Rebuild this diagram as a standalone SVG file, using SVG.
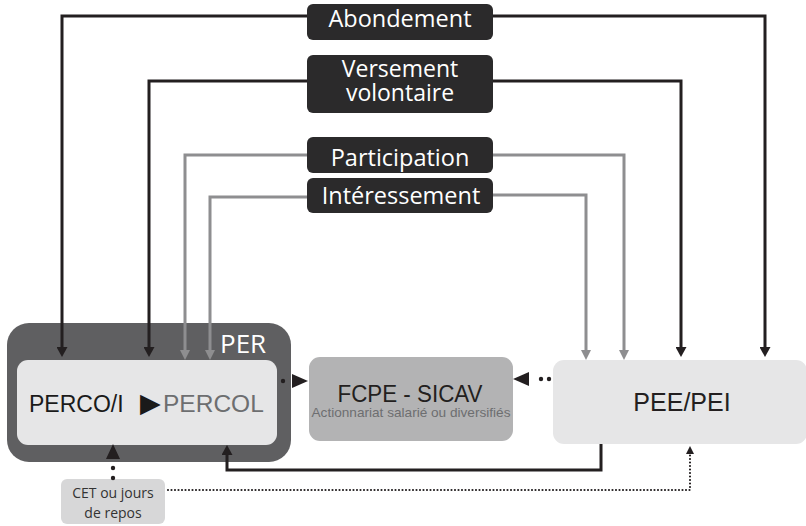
<svg xmlns="http://www.w3.org/2000/svg" width="806" height="526" viewBox="0 0 806 526">
<style>
.lbl{fill:#2b2a2b;}
.lbltxt{fill:#ffffff;font-family:"Open Sans","Noto Sans",sans-serif;font-size:23.5px;text-anchor:middle;}
.blk{fill:none;stroke:#231f20;stroke-width:3;stroke-linejoin:miter;}
.gry{fill:none;stroke:#8e8e90;stroke-width:3;stroke-linejoin:miter;}
.box{font-family:"Liberation Sans",Arial,sans-serif;}
</style>
<defs>
<marker id="ab" markerUnits="userSpaceOnUse" markerWidth="10" markerHeight="11" refX="0" refY="5.5" orient="auto"><path d="M0,0 L10,5.5 L0,11 z" fill="#231f20"/></marker>
<marker id="ag" markerUnits="userSpaceOnUse" markerWidth="10" markerHeight="10" refX="0" refY="5" orient="auto"><path d="M0,0 L10,5 L0,10 z" fill="#8e8e90"/></marker>
</defs>
<rect width="806" height="526" fill="#ffffff"/>
<g id="per">
<rect x="7" y="323" width="284" height="139" rx="22" fill="#5f5f61"/>
<text x="220" y="353" fill="#ffffff" font-family="'Open Sans','Noto Sans',sans-serif" font-size="26">PER</text>
</g>
<g id="perco" class="box">
<rect x="17" y="360" width="260" height="85" rx="11" fill="#e6e6e7"/>
<text y="412" font-size="23" fill="#1a1a1a"><tspan x="29">PERCO/I</tspan><tspan x="140" font-family="'DejaVu Sans',sans-serif" font-size="27" fill="#1a1a1a">▶</tspan><tspan x="163" font-size="24.5" fill="#6d6e70">PERCOL</tspan></text>
</g>
<g id="fcpe" class="box">
<rect x="309" y="357" width="204" height="84" rx="11" fill="#b3b3b4"/>
<text x="410" y="402" font-size="23" fill="#231f20" text-anchor="middle" textLength="145" lengthAdjust="spacingAndGlyphs">FCPE - SICAV</text>
<text x="411" y="417" font-size="13" fill="#6d6e70" text-anchor="middle" textLength="199" lengthAdjust="spacingAndGlyphs">Actionnariat salarié ou diversifiés</text>
</g>
<g id="pee" class="box">
<rect x="553" y="360" width="254" height="84" rx="11" fill="#e6e6e7"/>
<text x="682" y="411" font-size="25" fill="#231f20" text-anchor="middle">PEE/PEI</text>
</g>
<g id="cet">
<rect x="61" y="479" width="104" height="45" rx="6" fill="#d7d7d8"/>
<text x="113" y="498" font-family="'Open Sans','Noto Sans',sans-serif" font-size="14" fill="#333333" text-anchor="middle">CET ou jours</text>
<text x="113" y="518" font-family="'Open Sans','Noto Sans',sans-serif" font-size="14" fill="#333333" text-anchor="middle">de repos</text>
</g>
<g id="connectors">
<path class="blk" d="M307,16 H62 V347" marker-end="url(#ab)"/>
<path class="blk" d="M493,16 H765 V347" marker-end="url(#ab)"/>
<path class="blk" d="M307,81 H149 V347" marker-end="url(#ab)"/>
<path class="blk" d="M493,81 H681 V347" marker-end="url(#ab)"/>
<path class="gry" d="M307,155 H185 V350" marker-end="url(#ag)"/>
<path class="gry" d="M493,155 H624 V350" marker-end="url(#ag)"/>
<path class="gry" d="M307,197 H210 V350" marker-end="url(#ag)"/>
<path class="gry" d="M493,195 H586 V350" marker-end="url(#ag)"/>
<path class="blk" d="M601,444 V470 H227 V455" marker-end="url(#ab)"/>
<circle cx="283" cy="381" r="2.2" fill="#231f20"/>
<polygon points="292,374 308,381 292,388" fill="#231f20"/>
<circle cx="541" cy="379" r="2.2" fill="#231f20"/>
<circle cx="549" cy="379" r="2.2" fill="#231f20"/>
<polygon points="529,372 513,379 529,386" fill="#231f20"/>
<circle cx="113" cy="468" r="2.2" fill="#231f20"/>
<circle cx="113" cy="478" r="2.2" fill="#231f20"/>
<polygon points="106,459 113,444 120,459" fill="#231f20"/>
<path d="M168,490 H690 V454" fill="none" stroke="#231f20" stroke-width="2.2" stroke-dasharray="0 3.5" stroke-linecap="round"/>
<polygon points="686,454 690,446 694,454" fill="#231f20"/>
</g>
<g id="abondement">
<rect class="lbl" x="307" y="4" width="186" height="36" rx="6"/>
<text class="lbltxt" x="400" y="27">Abondement</text>
</g>
<g id="versement">
<rect class="lbl" x="307" y="55" width="186" height="58" rx="6"/>
<text class="lbltxt" x="400" y="77" style="font-size:23px">Versement</text>
<text class="lbltxt" x="400" y="101" style="font-size:23px">volontaire</text>
</g>
<g id="participation">
<rect class="lbl" x="307" y="137" width="186" height="36" rx="6"/>
<text class="lbltxt" x="400" y="166">Participation</text>
</g>
<g id="interessement">
<rect class="lbl" x="307" y="178" width="186" height="35" rx="6"/>
<text class="lbltxt" x="401" y="204">Intéressement</text>
</g>
</svg>
